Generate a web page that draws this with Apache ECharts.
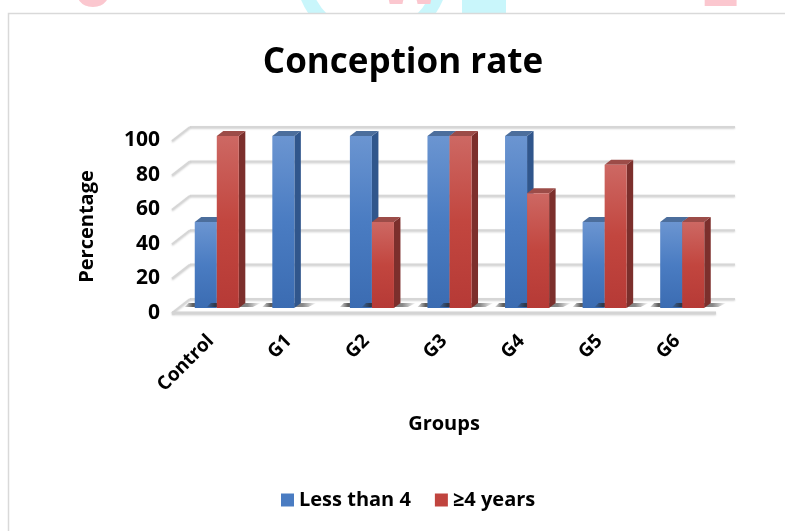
<!DOCTYPE html>
<html><head><meta charset="utf-8">
<script src="https://cdn.jsdelivr.net/npm/echarts@6/dist/echarts.min.js"></script>
<style>html,body{margin:0;padding:0;background:#fff}#c{width:785px;height:531px}</style>
</head><body><div id="c"></div>
<script>
const categories = ['Control', 'G1', 'G2', 'G3', 'G4', 'G5', 'G6'];
const lessThan4 = [50, 100, 100, 100, 100, 50, 50];
const fourPlus = [100, 0, 50, 100, 66.7, 83.3, 50];
const yTicks = [0, 20, 40, 60, 80, 100];
const seriesNames = ['Less than 4', '≥4 years'];

const FONT = 'Open Sans';
const chart = echarts.init(document.getElementById('c'));

const LG = echarts.graphic.LinearGradient;
const pal = [
  { front: ['#6b95d1', '#4a7cc2', '#3b6cb2'], side: '#30568c', top: '#4c6e9c', legend: '#4a7cc2' },
  { front: ['#cd6863', '#c2463f', '#b63a36'], side: '#7c2f2c', top: '#9c4c48', legend: '#c0443e' }
];

function barRender(sideIdx) {
  const p = pal[sideIdx];
  return function (params, api) {
    const idx = api.value(0), v = api.value(1);
    if (!v) return null;
    const t = api.coord([idx, v]);
    const b = api.coord([idx, 0]);
    const bw = api.size([1, 0])[0] * 0.284;
    const x0 = sideIdx === 0 ? t[0] - bw : t[0];
    const x1 = x0 + bw;
    const yt = t[1], yb = b[1];
    const dx = 6.5, dy = -5;
    return {
      type: 'group',
      children: [
        { type: 'polygon', shape: { points: [[x0 - 10, yb - 1], [x0 - 6, yb - 5], [x1 + 22, yb - 5], [x1 + 14, yb - 1]] },
          style: { fill: new LG(0, 0, 1, 0, [{ offset: 0, color: 'rgba(40,40,40,0.15)' }, { offset: 0.15, color: 'rgba(40,40,40,0.75)' }, { offset: 0.75, color: 'rgba(40,40,40,0.55)' }, { offset: 1, color: 'rgba(40,40,40,0)' }]) }, z2: 0 },
        { type: 'polygon', shape: { points: [[x1, yt], [x1 + dx, yt + dy], [x1 + dx, yb + dy], [x1, yb]] },
          style: { fill: p.side }, z2: 1 },
        { type: 'polygon', shape: { points: [[x0, yt], [x0 + dx, yt + dy], [x1 + dx, yt + dy], [x1, yt]] },
          style: { fill: p.top }, z2: 1 },
        { type: 'rect', shape: { x: x0, y: yt, width: bw, height: yb - yt },
          style: { fill: new LG(0, 0, 0, 1, [{ offset: 0, color: p.front[0] }, { offset: 0.5, color: p.front[1] }, { offset: 1, color: p.front[2] }]) }, z2: 2 }
      ]
    };
  };
}

function wallRender(params, api) {
  const cs = params.coordSys;
  const v = api.value(1);
  const y = api.coord([0, v])[1];
  const st = { stroke: '#d6d6d6', lineWidth: 2, shadowBlur: 2, shadowColor: 'rgba(0,0,0,0.18)', shadowOffsetY: 1 };
  const ch = [
    { type: 'line', shape: { x1: cs.x + 12, y1: y - 9, x2: cs.x + cs.width + 14, y2: y - 9 }, style: st },
    { type: 'line', shape: { x1: cs.x - 6, y1: y + 5, x2: cs.x + 12, y2: y - 9 }, style: st }
  ];
  if (v === 0) {
    ch.push({ type: 'line', shape: { x1: cs.x - 6, y1: y + 5, x2: cs.x + cs.width - 5, y2: y + 5 }, style: { stroke: '#d4d4d4', lineWidth: 3, shadowBlur: 2, shadowColor: 'rgba(0,0,0,0.15)', shadowOffsetY: 1 } });
  }
  return { type: 'group', children: ch };
}

const txt = { fontFamily: FONT, fontWeight: 'bold', color: '#000' };
const wm = { fontFamily: 'DejaVu Sans', fontWeight: 'bold' };
chart.setOption({
  animation: false,
  backgroundColor: '#fff',
  graphic: [
    { type: 'text', left: 72, top: -40, silent: true, z: -10, style: { text: '0', fontSize: 60, fill: '#fbc7cf', ...wm } },
    { type: 'circle', shape: { cx: 372, cy: -30, r: 70 }, silent: true, z: -10, style: { fill: 'none', stroke: '#c9f6fb', lineWidth: 14 } },
    { type: 'text', left: 378, top: -40, silent: true, z: -9, style: { text: 'W', fontSize: 58, fill: '#fbc7cf', ...wm } },
    { type: 'rect', shape: { x: 462, y: -10, width: 44, height: 24 }, silent: true, z: -10, style: { fill: '#c9f6fb' } },
    { type: 'text', left: 700, top: -40, silent: true, z: -10, style: { text: '2', fontSize: 60, fill: '#fbc7cf', ...wm } },
    { type: 'rect', shape: { x: 8.5, y: 13.5, width: 900, height: 700 }, silent: true, z: -5,
      style: { fill: '#fff', stroke: '#d9d9d9', lineWidth: 1.5 } }
  ],
  title: {
    text: 'Conception rate', left: 398, top: 41, textAlign: 'center',
    textStyle: { ...txt, fontSize: 35 }
  },
  legend: {
    data: seriesNames, top: 485, left: 276, orient: 'horizontal',
    icon: 'rect', itemWidth: 13, itemHeight: 13, itemGap: 24,
    textStyle: { ...txt, fontSize: 20 }
  },
  grid: [
    { left: 178, right: 64, top: 136, bottom: 223 },
    { left: 172, right: 69, top: 140, bottom: 218 }
  ],
  xAxis: [
    { type: 'category', data: categories, gridIndex: 0, show: false },
    {
      type: 'category', data: categories, gridIndex: 1,
      axisLine: { show: false }, axisTick: { show: false }, splitLine: { show: false },
      axisLabel: { rotate: 45, margin: 25, ...txt, fontSize: 19, interval: 0 },
      name: 'Groups', nameLocation: 'middle', nameGap: 101,
      nameTextStyle: { ...txt, fontSize: 20 }
    }
  ],
  yAxis: [
    { type: 'value', min: 0, max: 100, interval: 20, gridIndex: 0, show: false },
    {
      type: 'value', min: 0, max: 100, interval: 20, gridIndex: 1,
      axisLine: { show: false }, axisTick: { show: false }, splitLine: { show: false },
      axisLabel: { margin: 12, ...txt, fontSize: 21 },
      name: 'Percentage', nameLocation: 'middle', nameRotate: 90, nameGap: 75,
      nameTextStyle: { ...txt, fontSize: 20 }
    }
  ],
  series: [
    { type: 'custom', name: 'walls', data: yTicks.map(t => [0, t]), renderItem: wallRender, z: 1, silent: true },
    { type: 'custom', name: seriesNames[0], data: lessThan4.map((v, i) => [i, v]), renderItem: barRender(0), z: 2,
      itemStyle: { color: pal[0].legend }, encode: { x: 0, y: 1 } },
    { type: 'custom', name: seriesNames[1], data: fourPlus.map((v, i) => [i, v]), renderItem: barRender(1), z: 3,
      itemStyle: { color: pal[1].legend }, encode: { x: 0, y: 1 } }
  ]
});
</script></body></html>
